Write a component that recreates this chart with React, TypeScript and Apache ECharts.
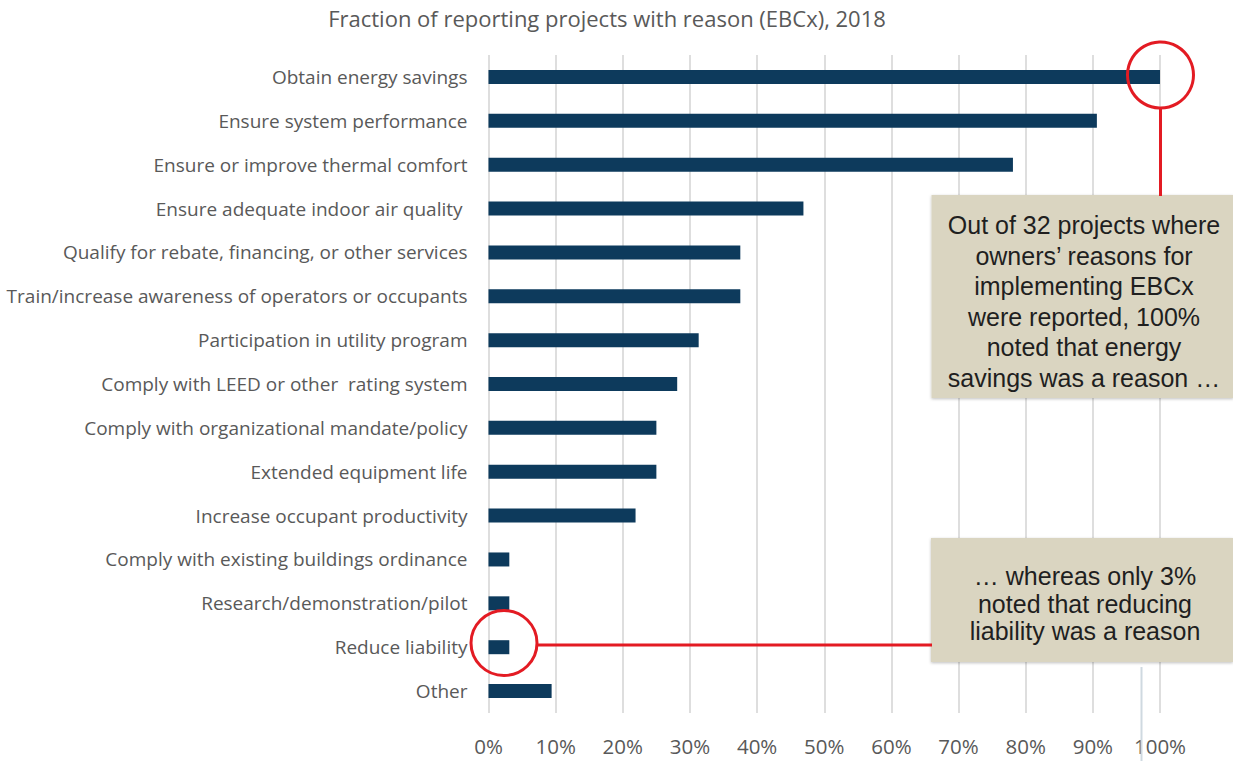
import React, { useEffect, useRef } from "react";
import * as echarts from "echarts";

const titleText = "Fraction of reporting projects with reason (EBCx), 2018";

const categories = [
  "Obtain energy savings",
  "Ensure system performance",
  "Ensure or improve thermal comfort",
  "Ensure adequate indoor air quality ",
  "Qualify for rebate, financing, or other services",
  "Train/increase awareness of operators or occupants",
  "Participation in utility program",
  "Comply with LEED or other  rating system",
  "Comply with organizational mandate/policy",
  "Extended equipment life",
  "Increase occupant productivity",
  "Comply with existing buildings ordinance",
  "Research/demonstration/pilot",
  "Reduce liability",
  "Other",
];

const fractions = [100, 90.6, 78.1, 46.9, 37.5, 37.5, 31.3, 28.1, 25.0, 25.0, 21.9, 3.1, 3.1, 3.1, 9.4];

const note1 =
  "Out of 32 projects where\nowners\u2019 reasons for\nimplementing EBCx\nwere reported, 100%\nnoted that energy\nsavings was a reason \u2026";
const note2 = "\u2026 whereas only 3%\nnoted that reducing\nliability was a reason";

const FONT = "'Open Sans', Lato, sans-serif";
const NOTE_FONT = "'Liberation Sans', Arial, sans-serif";
const RED = "#e31b23";
const BOX = "#dad5c1";

export default function App() {
  const ref = useRef<HTMLDivElement>(null);
  useEffect(() => {
    if (!ref.current) return;
    const chart = echarts.init(ref.current, null, { renderer: "svg" });
    chart.setOption({
      animation: false,
      backgroundColor: "#ffffff",
      title: {
        text: titleText,
        left: 602,
        textAlign: "center",
        top: 2,
        textStyle: { fontFamily: FONT, fontSize: 22, fontWeight: "normal", color: "#595959" },
      },
      grid: { left: 488.5, top: 55, width: 671.5, height: 658 },
      xAxis: {
        type: "value",
        min: 0,
        max: 100,
        interval: 10,
        axisLine: { show: false },
        axisTick: { show: false },
        axisLabel: {
          formatter: "{value}%",
          fontFamily: FONT,
          fontSize: 20.5,
          color: "#595959",
          margin: 22,
        },
        splitLine: { show: true, lineStyle: { color: "#dedede", width: 2 } },
      },
      yAxis: {
        type: "category",
        data: categories,
        inverse: true,
        axisLine: { show: false },
        axisTick: { show: false },
        axisLabel: {
          fontFamily: FONT,
          fontSize: 19,
          color: "#595959",
          margin: 21,
        },
      },
      series: [
        {
          type: "bar",
          data: fractions,
          barWidth: 14,
          itemStyle: { color: "#0d3a5c" },
        },
      ],
      graphic: [
        {
          type: "line",
          shape: { x1: 1141.5, y1: 667, x2: 1141.5, y2: 761 },
          style: { stroke: "#cfd9e0", lineWidth: 2 },
          z: 5,
        },
        {
          type: "circle",
          shape: { cx: 1160.5, cy: 75, r: 33 },
          style: { fill: "none", stroke: RED, lineWidth: 3 },
          z: 20,
        },
        {
          type: "line",
          shape: { x1: 1160.5, y1: 108, x2: 1160.5, y2: 196 },
          style: { stroke: RED, lineWidth: 3 },
          z: 20,
        },
        {
          type: "ellipse",
          shape: { cx: 504, cy: 643, rx: 33, ry: 32.5 },
          style: { fill: "none", stroke: RED, lineWidth: 3 },
          z: 20,
        },
        {
          type: "line",
          shape: { x1: 537, y1: 645, x2: 932, y2: 645 },
          style: { stroke: RED, lineWidth: 3 },
          z: 20,
        },
        {
          type: "rect",
          shape: { x: 931.5, y: 195, width: 302, height: 203 },
          style: { fill: BOX, shadowBlur: 3, shadowColor: "rgba(0,0,0,0.25)", shadowOffsetY: 1 },
          z: 10,
        },
        {
          type: "text",
          x: 1084,
          y: 301.5,
          style: {
            text: note1,
            fontFamily: NOTE_FONT,
            fontSize: 25,
            lineHeight: 30.6,
            fill: "#1f1f1f",
            align: "center",
            verticalAlign: "middle",
          },
          z: 11,
        },
        {
          type: "rect",
          shape: { x: 931, y: 538, width: 302, height: 124 },
          style: { fill: BOX, shadowBlur: 3, shadowColor: "rgba(0,0,0,0.25)", shadowOffsetY: 1 },
          z: 10,
        },
        {
          type: "text",
          x: 1085,
          y: 603.5,
          style: {
            text: note2,
            fontFamily: NOTE_FONT,
            fontSize: 25,
            lineHeight: 27.3,
            fill: "#1f1f1f",
            align: "center",
            verticalAlign: "middle",
          },
          z: 11,
        },
      ],
    });
    return () => chart.dispose();
  }, []);
  return (
    <div
      ref={ref}
      style={{ position: "absolute", left: 0, top: 0, width: 1233, height: 761, background: "#fff" }}
    />
  );
}
